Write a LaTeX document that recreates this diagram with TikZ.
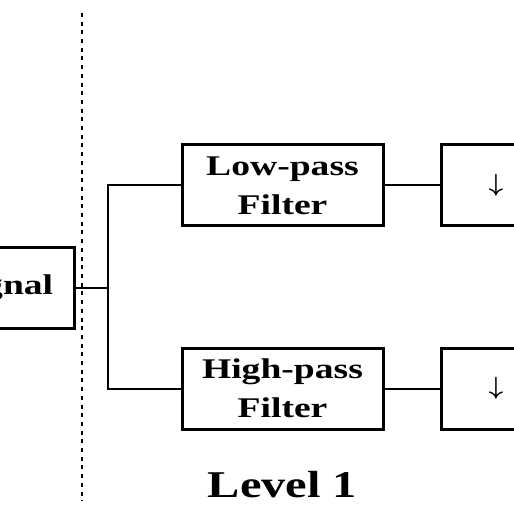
\documentclass[tikz,border=0pt]{standalone}
\usepackage{fontspec}
\setmainfont{Liberation Serif}
\newfontfamily\boxfont[FakeStretch=1.32]{Liberation Serif}
\newfontfamily\levelfont[FakeStretch=1.28]{Liberation Serif}
\usetikzlibrary{calc,positioning}

\begin{document}
\begin{tikzpicture}[x = 1pt, y = -1pt,
    block/.style = {draw, line width = 3pt, minimum height = 81pt, inner sep = 0pt,
        align = center, font = \boxfont\bfseries\fontsize{28.5}{39}\selectfont},
    wire/.style = {line width = 2pt},
    sepline/.style = {line width = 1.6pt, dash pattern = on 4pt off 4.7pt}]
        \useasboundingbox(0,0)rectangle(514,513);
        \clip(0,0)rectangle(514,513);
        % separator
        \coordinate(septop)at(82,13);
        \coordinate(sepbot)at(82,501);
        \path[draw, sepline](septop)to(sepbot);
        % input
        \node[block, minimum width = 142pt](signal)at(3,287.5){Signal};
        % filters
        \node[block, minimum width = 201pt](lpf)at(282.5,185.5){Low-pass\\Filter};
        \node[block, minimum width = 201pt](hpf)at(282.5,388.5){High-pass\\Filter};
        % downsampling
        \node[block, minimum width = 110pt, font = \boldmath\fontsize{27}{30}\selectfont](dsl)at(496,185.5){$\downarrow$};
        \node[block, minimum width = 110pt, font = \boldmath\fontsize{27}{30}\selectfont](dsh)at(496,388.5){$\downarrow$};
        % wires
        \coordinate(split)at(108,287.5);
        \path[draw, wire](signal.east)to(split);
        \path[draw, wire](lpf.west)-|(split)|-(hpf.west);
        \path[draw, wire](lpf.east)to(dsl.west);
        \path[draw, wire](hpf.east)to(dsh.west);
        % level
        \node[anchor = base, font = \levelfont\bfseries\fontsize{37.8}{40}\selectfont](level)at(282.5,497){Level 1};
    \end{tikzpicture}
\end{document}
